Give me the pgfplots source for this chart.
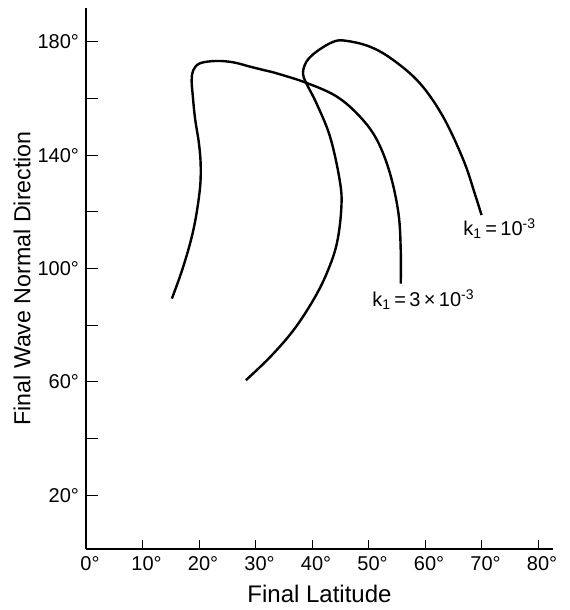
\documentclass[border=0pt]{standalone}
\usepackage{pgfplots}
\pgfplotsset{compat=1.18}
\usepackage{fontspec}
\setmainfont{Liberation Sans}
\begin{document}
\begin{tikzpicture}
\path[use as bounding box] (-43pt,-30.5pt) rectangle (241.5pt,274.5pt);
\begin{axis}[
  at={(0pt,0pt)}, anchor=south west,
  scale only axis, width=233.5pt, height=270.5pt,
  xmin=0, xmax=82.65, ymin=1, ymax=192,
  axis lines=left,
  axis line style={-, line width=1pt},
  tick align=inside,
  major tick length=6pt,
  tick style={black, line width=0.5pt},
  font=\fontsize{10}{12}\selectfont,
  xtick=\empty,
  extra x ticks={0,10,...,80},
  extra x tick labels={0\rlap{°},10\rlap{°},20\rlap{°},30\rlap{°},40\rlap{°},50\rlap{°},60\rlap{°},70\rlap{°},80\rlap{°}},
  extra x tick style={major tick length=4.5pt},
  ytick={20,40,...,180},
  yticklabels={20°,,60°,,100°,,140°,,180°},
  xlabel={Final Latitude},
  ylabel={Final Wave Normal Direction},
  xlabel style={at={(rel axis cs:0.5,0)}, anchor=base, yshift=-26.5pt, font=\fontsize{12}{14}\selectfont},
  ylabel style={at={(rel axis cs:0,0.5)}, anchor=center, yshift=32pt, font=\fontsize{11.6}{14}\selectfont},
  clip=false,
]
\addplot[black, line width=1.2pt, smooth, tension=0.6] coordinates {
(15.2,89.4) (17.2,100.6) (19.0,113.6) (20.1,127) (20.3,136) (20.0,144)
(19.3,153) (18.9,161) (18.7,166.5) (19.0,170.1) (20.2,172.5) (23.1,173.3)
(26.1,172.8) (29.0,171.3) (31.4,170.1) (33.8,168.9) (39.1,165.5) (44.4,160.7)
(48.5,153.6) (51.5,145.4) (53.8,133.6) (55.3,119.5) (55.7,106.5) (55.7,94.7)
};
\addplot[black, line width=1.2pt, smooth, tension=0.6] coordinates {
(28.3,60.6) (32.6,68.8) (36.7,78.2) (40.2,88.8) (42.6,98.3) (44.4,108.9)
(45.2,121.8) (44.9,131.2) (43.2,146.5) (40.8,158.3) (39.0,165.4) (38.4,168.9)
(39.0,173.0) (40.8,176.6) (43.8,180.1) (46.1,180.4) (50.3,178.3) (54.4,173.6)
(59.1,165.4) (63.2,153.6) (66.8,138.3) (68.8,126.5) (70.0,118.9)
};
\node[anchor=west, inner sep=0pt] at (axis cs:66.7,114) {k\textsubscript{1}\,=\,10\textsuperscript{-3}};
\node[anchor=west, inner sep=0pt] at (axis cs:50.6,89) {k\textsubscript{1}\,=\,3\,×\,10\textsuperscript{-3}};
\end{axis}
\end{tikzpicture}
\end{document}
